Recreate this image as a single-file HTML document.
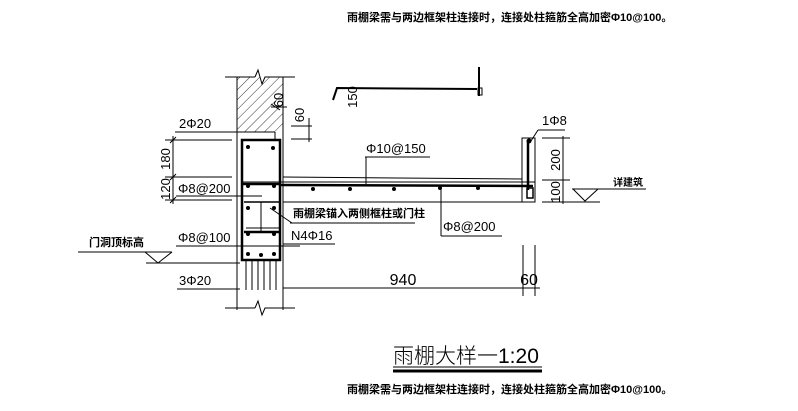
<!DOCTYPE html><html><head><meta charset="utf-8"><style>body{margin:0;background:#fff}svg{display:block}text{font-family:"Liberation Sans","Noto Sans CJK SC",sans-serif;fill:#000}</style></head><body>
<svg width="798" height="411" viewBox="0 0 798 411" xmlns="http://www.w3.org/2000/svg">
<defs><pattern id="h" width="7" height="7" patternUnits="userSpaceOnUse" patternTransform="rotate(45)"><line x1="0" y1="0" x2="0" y2="7" stroke="#000" stroke-width="0.8"/></pattern></defs>
<g stroke="#000" fill="none" stroke-width="1">
<text x="347" y="21" font-size="11" font-weight="bold" stroke="none">雨棚梁需与两边框架柱连接时，连接处柱箍筋全高加密Φ10@100。</text>
<!-- column above -->
<rect x="237" y="77" width="46" height="55" fill="url(#h)" stroke="none"/>
<line x1="237" y1="77" x2="237" y2="310"/><line x1="283" y1="77" x2="283" y2="310"/>
<line x1="225" y1="77" x2="255" y2="77"/><polyline points="255,77 258,70 262,84 265,77 295,77"/>
<line x1="225" y1="308" x2="255" y2="308"/><polyline points="255,308 258,301 262,315 265,308 295,308"/>
<line x1="237" y1="132" x2="275" y2="132"/><line x1="275" y1="132" x2="275" y2="140"/>
<!-- beam -->
<rect x="242" y="140" width="38" height="120" stroke-width="2.5"/>
<line x1="242" y1="182" x2="535" y2="182" stroke-width="1"/>
<line x1="242" y1="184" x2="280" y2="184" stroke-width="2.5"/>
<line x1="244" y1="202" x2="279" y2="202" stroke-width="1.5"/>
<line x1="244" y1="232" x2="279" y2="232" stroke-width="2.5"/>
<line x1="261" y1="202" x2="261" y2="232"/>
<line x1="246" y1="228" x2="279" y2="228" stroke-width="1"/>
<g fill="#000" stroke="none"><circle cx="248" cy="147" r="2"/><circle cx="273" cy="148" r="2"/><circle cx="248" cy="186" r="2"/><circle cx="274" cy="186" r="2"/><circle cx="248" cy="208" r="2"/><circle cx="274" cy="208" r="2"/><circle cx="248" cy="234" r="2"/><circle cx="274" cy="234" r="2"/><circle cx="248" cy="254" r="2"/><circle cx="261" cy="255" r="2"/><circle cx="274" cy="254" r="2"/></g>
<line x1="246" y1="260" x2="246" y2="290"/><line x1="252" y1="260" x2="252" y2="290"/><line x1="258" y1="260" x2="258" y2="290"/><line x1="264" y1="260" x2="264" y2="290"/><line x1="270" y1="260" x2="270" y2="290"/><line x1="276" y1="260" x2="276" y2="290"/>
<!-- slab -->
<line x1="283" y1="177" x2="522" y2="179"/>
<line x1="280" y1="185" x2="533" y2="186" stroke-width="2.5"/>
<line x1="283" y1="202" x2="535" y2="202"/>
<rect x="522" y="138" width="13" height="64" stroke-width="1"/>
<line x1="528" y1="140" x2="528" y2="190" stroke-width="2.5"/>
<rect x="527" y="188" width="6" height="10" stroke-width="1.5"/>
<g fill="#000" stroke="none"><circle cx="313" cy="189" r="2"/><circle cx="350" cy="189" r="2"/><circle cx="394" cy="189" r="2"/><circle cx="440" cy="188" r="2"/><circle cx="478" cy="188" r="2"/><circle cx="529" cy="141" r="2.5"/></g>
<!-- left dims -->
<line x1="173" y1="136" x2="173" y2="204"/>
<line x1="165" y1="140" x2="232" y2="140"/><line x1="165" y1="177" x2="232" y2="177"/><line x1="165" y1="200" x2="232" y2="200"/>
<line x1="170" y1="143" x2="176" y2="137"/><line x1="170" y1="180" x2="176" y2="174"/><line x1="170" y1="203" x2="176" y2="197"/>
<text transform="translate(170,159) rotate(-90)" font-size="13" text-anchor="middle" stroke="none">180</text>
<text transform="translate(170,189) rotate(-90)" font-size="13" text-anchor="middle" stroke="none">120</text>
<text x="179" y="128" font-size="13" stroke="none">2Φ20</text><line x1="175" y1="132" x2="240" y2="132"/>
<text x="178" y="193" font-size="13" stroke="none">Φ8@200</text><line x1="176" y1="196" x2="262" y2="196"/>
<text x="178" y="242" font-size="13" stroke="none">Φ8@100</text><line x1="176" y1="246" x2="300" y2="246"/>
<text x="179" y="285" font-size="13" stroke="none">3Φ20</text><line x1="177" y1="289" x2="240" y2="289"/>
<text x="89" y="246" font-size="11" font-weight="bold" stroke="none">门洞顶标高</text>
<line x1="78" y1="252" x2="172" y2="252"/><polyline points="145,252 158,263 172,252"/>
<line x1="146" y1="263" x2="240" y2="263"/>
<!-- top 60 dims -->
<text transform="translate(283,100) rotate(-90)" font-size="13" text-anchor="middle" stroke="none">60</text>
<line x1="271" y1="107" x2="287" y2="107"/><line x1="271" y1="104" x2="280" y2="110"/>
<text transform="translate(304,115) rotate(-90)" font-size="13" text-anchor="middle" stroke="none">60</text>
<line x1="309" y1="118" x2="309" y2="142"/><line x1="291" y1="126" x2="312" y2="126"/><line x1="291" y1="139" x2="312" y2="139"/>
<line x1="283" y1="140" x2="283" y2="177"/>
<!-- top bent bar detail -->
<polyline points="333,100 337,88 477,89" stroke-width="2"/>
<line x1="479" y1="67" x2="479" y2="96" stroke-width="2"/><rect x="478" y="88" width="4" height="7"/>
<text transform="translate(357,97) rotate(-90)" font-size="13" text-anchor="middle" stroke="none">150</text>
<!-- labels -->
<text x="366" y="153" font-size="13" stroke="none">Φ10@150</text><line x1="365" y1="157" x2="430" y2="157"/><line x1="366" y1="157" x2="366" y2="184"/>
<text x="293" y="217" font-size="11" font-weight="bold" stroke="none">雨棚梁锚入两侧框柱或门柱</text><line x1="290" y1="223" x2="415" y2="223"/><line x1="270" y1="208" x2="292" y2="223"/>
<text x="291" y="240" font-size="13" stroke="none">N4Φ16</text><line x1="283" y1="244" x2="335" y2="244"/>
<text x="443" y="231" font-size="13" stroke="none">Φ8@200</text><line x1="441" y1="236" x2="502" y2="236"/><line x1="441" y1="188" x2="441" y2="236"/>
<text x="542" y="125" font-size="13" stroke="none">1Φ8</text><line x1="538" y1="130" x2="565" y2="130"/><line x1="538" y1="130" x2="531" y2="141"/>
<!-- right dims -->
<line x1="563" y1="136" x2="563" y2="204"/><line x1="542" y1="138" x2="570" y2="138"/><line x1="542" y1="180" x2="570" y2="180"/><line x1="542" y1="202" x2="600" y2="202"/>
<text transform="translate(560,160) rotate(-90)" font-size="13" text-anchor="middle" stroke="none">200</text>
<text transform="translate(560,192) rotate(-90)" font-size="13" text-anchor="middle" stroke="none">100</text>
<text x="613" y="186" font-size="10" font-weight="bold" stroke="none">详建筑</text>
<line x1="572" y1="189" x2="646" y2="189"/><polyline points="573,189 585,201 598,189"/>
<!-- bottom dims -->
<line x1="523" y1="245" x2="523" y2="296"/><line x1="535" y1="245" x2="535" y2="296"/>
<line x1="283" y1="288" x2="540" y2="288"/>
<text x="403" y="285" font-size="16" text-anchor="middle" stroke="none">940</text>
<text x="529" y="285" font-size="16" text-anchor="middle" stroke="none">60</text>
<!-- title -->
<text x="393" y="363" font-size="21" stroke="none" style="font-weight:200">雨棚大样一1:20</text>
<line x1="393" y1="367" x2="542" y2="367"/><line x1="393" y1="371" x2="542" y2="371" stroke-width="3"/>
<text x="347" y="393" font-size="11" font-weight="bold" stroke="none">雨棚梁需与两边框架柱连接时，连接处柱箍筋全高加密Φ10@100。</text>
</g></svg></body></html>
